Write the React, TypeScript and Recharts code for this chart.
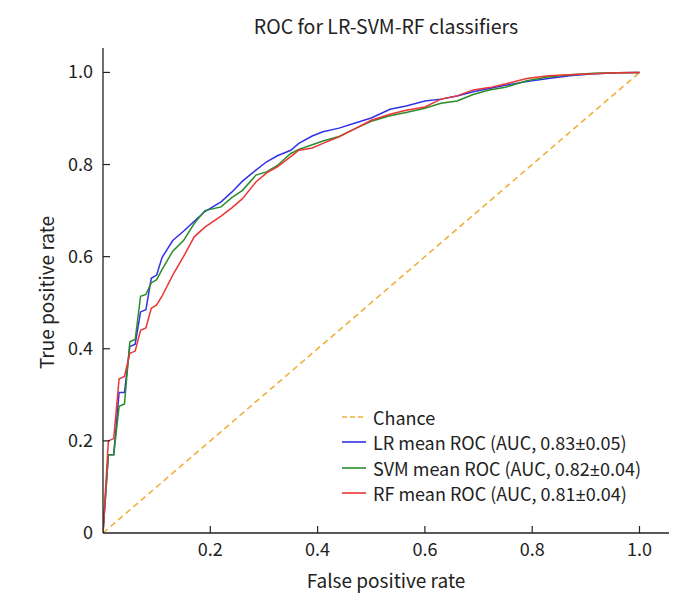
import React from "react";
import { LineChart, Line, XAxis, YAxis } from "recharts";

const fpr = [0, 0.01, 0.02, 0.03, 0.04, 0.05, 0.06, 0.07, 0.08, 0.09, 0.1, 0.11, 0.13, 0.15, 0.17, 0.19, 0.22, 0.24, 0.26, 0.285, 0.305, 0.325, 0.35, 0.365, 0.39, 0.41, 0.44, 0.47, 0.5, 0.535, 0.565, 0.6, 0.63, 0.66, 0.69, 0.72, 0.75, 0.79, 0.83, 0.87, 0.915, 0.96, 1.0];
const lrTpr = [0, 0.17, 0.17, 0.305, 0.305, 0.405, 0.41, 0.48, 0.485, 0.553, 0.56, 0.598, 0.635, 0.655, 0.677, 0.698, 0.719, 0.74, 0.764, 0.788, 0.806, 0.819, 0.831, 0.846, 0.862, 0.871, 0.879, 0.89, 0.901, 0.92, 0.927, 0.938, 0.942, 0.949, 0.958, 0.965, 0.972, 0.98, 0.987, 0.993, 0.997, 0.999, 1.0];
const svmTpr = [0, 0.17, 0.17, 0.275, 0.28, 0.415, 0.42, 0.514, 0.518, 0.543, 0.55, 0.572, 0.612, 0.635, 0.672, 0.7, 0.708, 0.728, 0.744, 0.777, 0.784, 0.798, 0.824, 0.833, 0.843, 0.851, 0.861, 0.878, 0.894, 0.906, 0.913, 0.922, 0.933, 0.938, 0.952, 0.962, 0.968, 0.982, 0.99, 0.995, 0.998, 0.999, 1.0];
const rfTpr = [0, 0.2, 0.205, 0.335, 0.34, 0.39, 0.395, 0.44, 0.445, 0.488, 0.495, 0.514, 0.56, 0.6, 0.643, 0.664, 0.688, 0.706, 0.726, 0.762, 0.782, 0.795, 0.817, 0.831, 0.836, 0.846, 0.86, 0.878, 0.896, 0.909, 0.918, 0.925, 0.942, 0.949, 0.962, 0.967, 0.975, 0.987, 0.993, 0.995, 0.997, 0.999, 1.0];
const chanceX = [0, 1];
const chanceY = [0, 1];

const xTicks = [0.2, 0.4, 0.6, 0.8, 1.0];
const yTicks = [0, 0.2, 0.4, 0.6, 0.8, 1.0];
const yTickLabels = ["0", "0.2", "0.4", "0.6", "0.8", "1.0"];

const legendItems = [
  { pre: "Chance", pm: "", post: "", color: "#f0b03c", dashed: true },
  { pre: "LR mean ROC (AUC, 0.83", pm: "\u00b1", post: "0.05)", color: "#3232e6", dashed: false },
  { pre: "SVM mean ROC (AUC, 0.82", pm: "\u00b1", post: "0.04)", color: "#2a8c2a", dashed: false },
  { pre: "RF mean ROC (AUC, 0.81", pm: "\u00b1", post: "0.04)", color: "#ec3434", dashed: false },
];

const FONT = "'Noto Sans CJK KR', 'Noto Sans', sans-serif";

const rocData = fpr.map((x, i) => ({ fpr: x, lr: lrTpr[i], svm: svmTpr[i], rf: rfTpr[i] }));
const chanceData = chanceX.map((x, i) => ({ fpr: x, chance: chanceY[i] }));

const YTick = (props: any) => {
  const { x, y, payload } = props;
  const idx = yTicks.indexOf(payload.value);
  return (
    <g>
      {payload.value !== 0 && <line x1={x} x2={x + 7} y1={y} y2={y} stroke="#222" strokeWidth={1.2} />}
      <text x={x - 10} y={y} dy={6} textAnchor="end" fontSize={18} fill="#222" fontFamily={FONT}>
        {idx >= 0 ? yTickLabels[idx] : payload.value}
      </text>
    </g>
  );
};

const XTick = (props: any) => {
  const { x, y, payload } = props;
  return (
    <g>
      <line x1={x} x2={x} y1={y} y2={y - 7} stroke="#222" strokeWidth={1.2} />
      <text x={x} y={y} dy={23} textAnchor="middle" fontSize={18} fill="#222" fontFamily={FONT}>
        {Number(payload.value).toFixed(1)}
      </text>
    </g>
  );
};

export default function App() {
  return (
    <div style={{ position: "absolute", left: 0, top: 0, width: 691, height: 605, background: "#fff" }}>
      <LineChart width={691} height={605} margin={{ top: 48, right: 22, bottom: 32, left: 43 }}>
        <XAxis type="number" dataKey="fpr" domain={[0, 1.055]} ticks={xTicks} allowDataOverflow tick={<XTick />} tickLine={false} tickSize={0} tickMargin={0} height={40} axisLine={{ stroke: "#222", strokeWidth: 1.3 }} interval={0} />
        <YAxis type="number" domain={[0, 1.053]} ticks={yTicks} allowDataOverflow tick={<YTick />} tickLine={false} tickSize={0} tickMargin={0} width={60} axisLine={{ stroke: "#222", strokeWidth: 1.3 }} interval={0} />
        <Line data={chanceData} dataKey="chance" stroke="#f0b03c" strokeWidth={1.6} strokeDasharray="6 4" dot={false} isAnimationActive={false} />
        <Line data={rocData} dataKey="lr" stroke="#3232e6" strokeWidth={1.5} dot={false} isAnimationActive={false} />
        <Line data={rocData} dataKey="svm" stroke="#2a8c2a" strokeWidth={1.5} dot={false} isAnimationActive={false} />
        <Line data={rocData} dataKey="rf" stroke="#ec3434" strokeWidth={1.5} dot={false} isAnimationActive={false} />
      </LineChart>
      <div style={{ position: "absolute", left: 103, width: 566, top: 11, textAlign: "center", fontFamily: FONT, fontSize: 19.5, color: "#222" }}>
        ROC for LR-SVM-RF classifiers
      </div>
      <div style={{ position: "absolute", left: 103, width: 566, top: 566, textAlign: "center", fontFamily: FONT, fontSize: 19, color: "#222" }}>
        False positive rate
      </div>
      <div style={{ position: "absolute", left: 45, top: 293, width: 0, height: 0 }}>
        <div style={{ position: "absolute", left: -150, top: -14, width: 300, textAlign: "center", transform: "rotate(-90deg)", fontFamily: FONT, fontSize: 19, color: "#222", whiteSpace: "nowrap" }}>
          True positive rate
        </div>
      </div>
      <div style={{ position: "absolute", left: 340, top: 404, fontFamily: FONT, fontSize: 18, color: "#222" }}>
        {legendItems.map((it) => (
          <div key={it.pre} style={{ display: "flex", alignItems: "center", height: 25.5, whiteSpace: "nowrap" }}>
            <svg width={30} height={10} style={{ marginRight: 3 }}>
              <line x1={2} x2={26} y1={5} y2={5} stroke={it.color} strokeWidth={1.6} strokeDasharray={it.dashed ? "5 3" : undefined} />
            </svg>
            <span>
              {it.pre}
              {it.pm && <span style={{ fontFamily: "'Noto Sans', sans-serif" }}>{it.pm}</span>}
              {it.post}
            </span>
          </div>
        ))}
      </div>
    </div>
  );
}
